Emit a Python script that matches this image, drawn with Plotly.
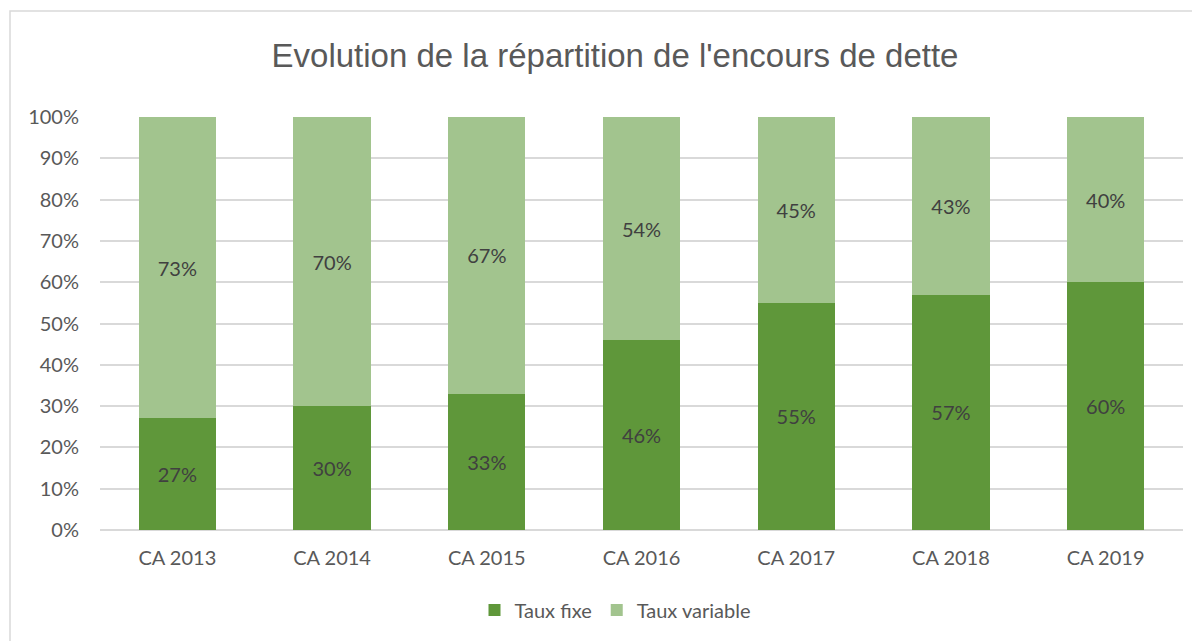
import plotly.graph_objects as go

categories = ["CA 2013", "CA 2014", "CA 2015", "CA 2016", "CA 2017", "CA 2018", "CA 2019"]
taux_fixe = [27, 30, 33, 46, 55, 57, 60]
taux_variable = [73, 70, 67, 54, 45, 43, 40]
y_ticks = [0, 10, 20, 30, 40, 50, 60, 70, 80, 90, 100]
y_tick_labels = [f"{v}%" for v in y_ticks]

W, H = 1200, 641
OFF = 8  # page offset of the figure in the browser
L, T = 100 - OFF, 117 - OFF
R = W - (1183 - OFF)
B = H - (530 - OFF)

FONT = "Lato, Open Sans, sans-serif"

fig = go.Figure()
fig.add_trace(go.Bar(
    x=categories, y=taux_fixe, name="Taux fixe",
    marker=dict(color="#5f973a", line=dict(width=0)),
    text=[f"{v}%" for v in taux_fixe], textposition="inside",
    insidetextanchor="middle",
    textfont=dict(family=FONT, size=20, color="#404040"),
    hoverinfo="skip",
))
fig.add_trace(go.Bar(
    x=categories, y=taux_variable, name="Taux variable",
    marker=dict(color="#a2c48e", line=dict(width=0)),
    text=[f"{v}%" for v in taux_variable], textposition="inside",
    insidetextanchor="middle",
    textfont=dict(family=FONT, size=20, color="#404040"),
    hoverinfo="skip",
))

pw = W - L - R
ph = H - T - B
fig.add_shape(type="rect", xref="paper", yref="paper",
              x0=(10 - OFF - L) / pw, x1=(1199 - L) / pw,
              y0=(H - B - (660 - OFF)) / ph, y1=(H - B - (11 - OFF)) / ph,
              line=dict(color="#d9d9d9", width=1.5), fillcolor="rgba(0,0,0,0)", layer="below")

fig.update_layout(
    width=W, height=H,
    barmode="stack", bargap=0.5,
    margin=dict(l=L, r=R, t=T, b=B),
    paper_bgcolor="white", plot_bgcolor="white",
    title=dict(text="Evolution de la répartition de l'encours de dette",
               x=(615 - OFF) / W, xanchor="center", y=1 - (55 - OFF) / H, yanchor="middle",
               font=dict(family="Liberation Sans, Arial, sans-serif", size=33, color="#595959")),
    font=dict(family=FONT, color="#595959"),
    showlegend=True,
    legend=dict(orientation="h", x=(615 - L - OFF) / pw, xanchor="center",
                y=(H - B - (610 - OFF)) / ph, yanchor="middle",
                font=dict(size=20, color="#595959"), traceorder="normal",
                itemwidth=30, bgcolor="rgba(0,0,0,0)"),
    xaxis=dict(showgrid=False, showline=False, ticks="",
               tickfont=dict(size=20, color="#595959"), ticklabelstandoff=14),
    yaxis=dict(range=[0, 100], tickvals=y_ticks, ticktext=y_tick_labels,
               showgrid=True, gridcolor="#d9d9d9", gridwidth=1.5,
               zeroline=True, zerolinecolor="#d9d9d9", zerolinewidth=1.5,
               showline=False, ticks="", ticklabelstandoff=20,
               tickfont=dict(size=20, color="#595959")),
)

fig.write_html("out.html")
